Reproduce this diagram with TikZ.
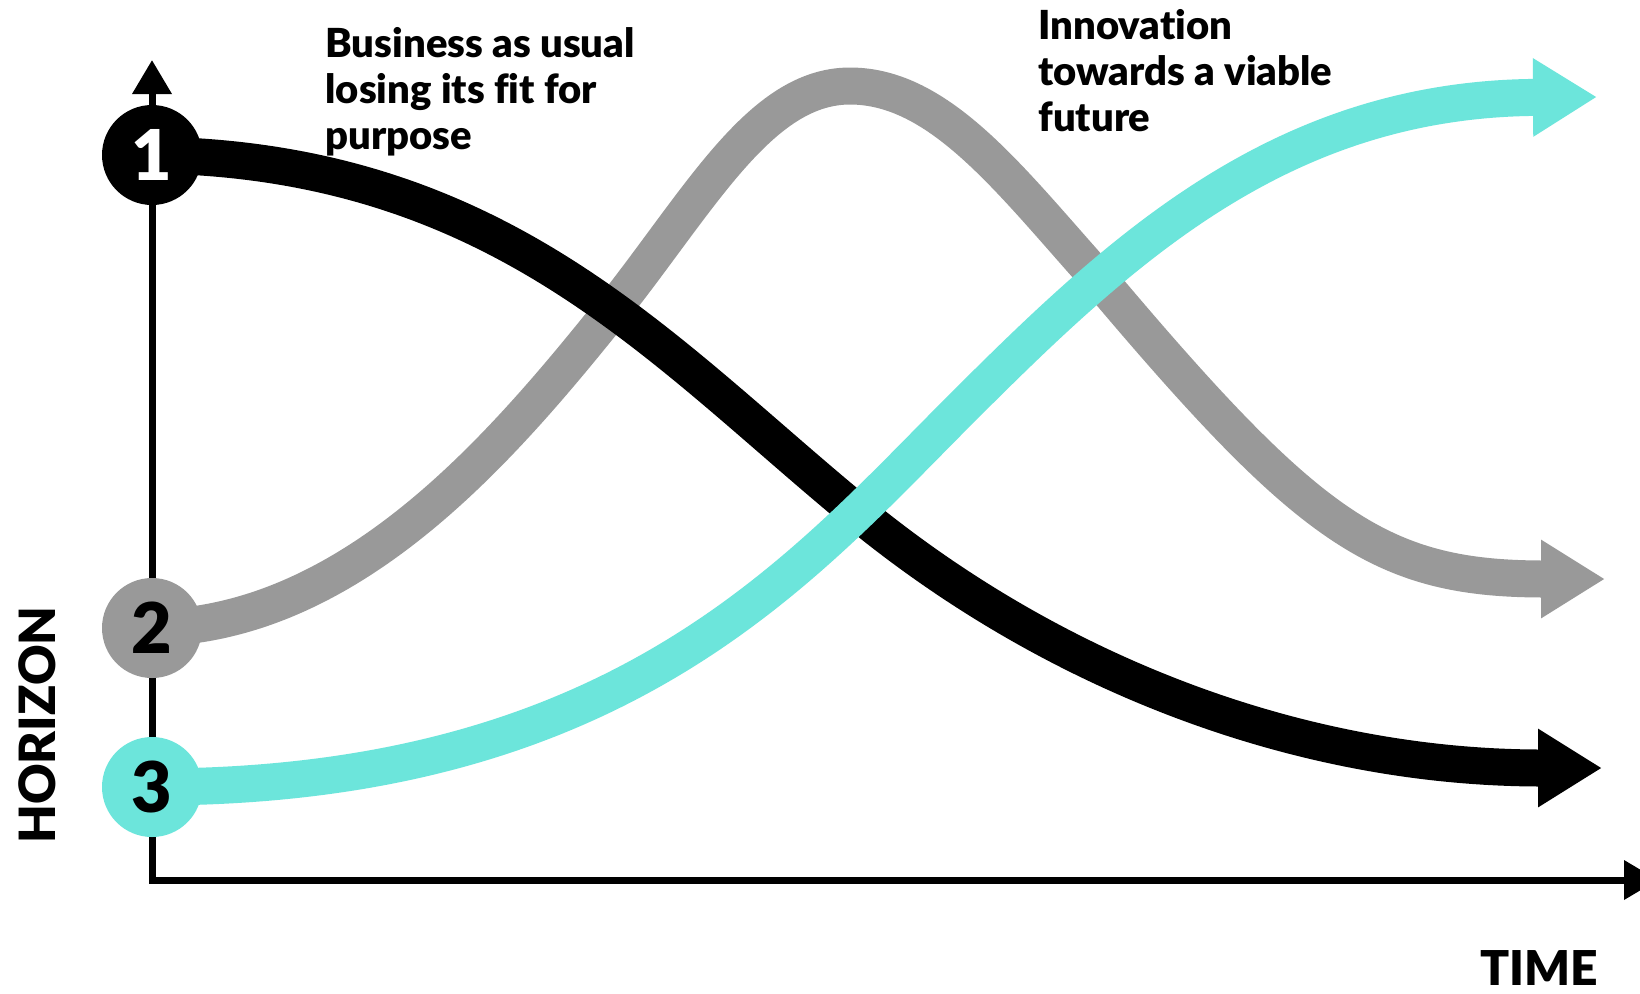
\documentclass[tikz,border=0pt]{standalone}
\usepackage{fontspec}
\setmainfont{Lato}[Ligatures=CommonOff, BoldFont={Lato Black}]
\usetikzlibrary{arrows.meta,backgrounds}

\definecolor{flowteal}{RGB}{108,229,219}
\definecolor{flowgrey}{RGB}{153,153,153}

\begin{document}
\begin{tikzpicture}[x=0.5pt, y=-0.5pt,
  axis/.style = {line width=3.5pt,
    {Triangle[length=17pt,width=19pt]}-{Triangle[length=17pt,width=19pt]}},
  flow/.style = {line width=18.5pt,
    -{Triangle[length=32pt,width=37pt]}},
  horizon/.style = {circle, minimum size=50pt, inner sep=0pt,
    font=\fontsize{35}{35}\selectfont\bfseries},
  caption/.style = {align=left, anchor=north west, inner sep=0pt,
    font=\fontsize{20}{23}\selectfont\bfseries}]

  \clip (0,0) rectangle (1640,993);

  % horizons on the axis
  \node[horizon, fill=black, text=white] (h1) at (152,155) {1};
  \node[horizon, fill=flowgrey] (h2) at (152,628) {2};
  \node[horizon, fill=flowteal] (h3) at (152,787) {3};

  \coordinate (ytip) at (152,60);
  \coordinate (origin) at (152,880);
  \coordinate (xtip) at (1658,880);
  \coordinate (end1) at (1602,768);
  \coordinate (end2) at (1605,579);
  \coordinate (end3) at (1597,97);

  \begin{scope}[on background layer]
    \fill[white] (0,0) rectangle (1640,993);
    \draw[axis] (ytip) -- (origin) -- (xtip);
    % horizon 2
    \draw[flow, flowgrey] (h2.center)
      .. controls (350,625) and (500,450) .. (610,313)
      .. controls (700,200) and (760,86) .. (850,86)
      .. controls (940,86) and (1010,180) .. (1097,277)
      .. controls (1310,530) and (1380,579) .. (end2);
    % horizon 1
    \draw[flow, black] (h1.center)
      .. controls (500,160) and (660,350) .. (857,512)
      .. controls (1054,674) and (1300,768) .. (end1);
    % horizon 3
    \draw[flow, flowteal] (h3.center)
      .. controls (620,787) and (800,570) .. (960,410)
      .. controls (1120,250) and (1280,99) .. (end3);
  \end{scope}

  \node[caption] (bau) at (325,27) {Business as usual\\losing its fit for\\purpose};
  \node[caption] (innov) at (1038,9) {Innovation\\towards a viable\\future};
  \node[font=\fontsize{24}{24}\selectfont\bfseries] (time) at (1539,968) {TIME};
  \node[font=\fontsize{25}{25}\selectfont\bfseries, rotate=90] (hor) at (37,725) {HORIZON};
\end{tikzpicture}
\end{document}
